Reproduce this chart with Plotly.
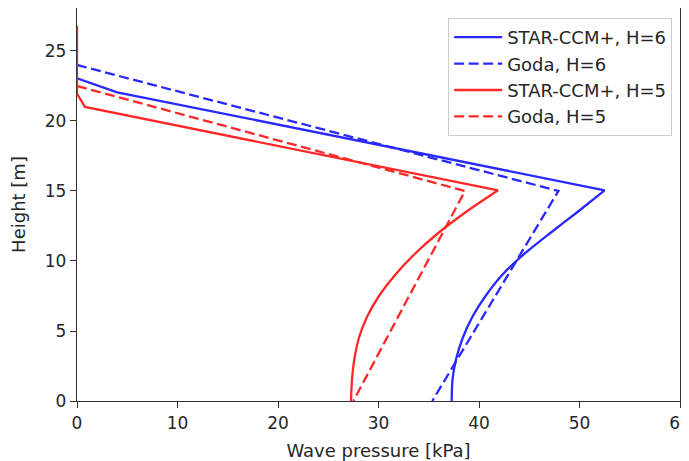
import plotly.graph_objects as go

# STAR-CCM+, H=6  (upper straight part, then curved lower part)
star6_top_p = [0.0, 2.0, 4.0, 52.5]
star6_top_z = [23.05, 22.55, 22.05, 15.05]
star6_low_p = [52.5, 49.8, 47.1, 44.5, 42.3, 40.65, 39.33, 38.38, 37.72, 37.36, 37.28]
star6_low_z = [15.05, 13.5, 12.0, 10.5, 9.0, 7.5, 6.0, 4.5, 3.0, 1.5, 0.0]
# Goda, H=6
goda6_p = [0.0, 47.9, 35.35]
goda6_z = [24.0, 15.0, 0.0]
# STAR-CCM+, H=5
star5_top_p = [0.0, 0.0, 0.8, 41.9]
star5_top_z = [26.8, 21.95, 21.0, 15.05]
star5_low_p = [41.9, 38.7, 35.95, 33.6, 31.65, 30.05, 28.85, 28.05, 27.6, 27.36, 27.26]
star5_low_z = [15.05, 13.5, 12.0, 10.5, 9.0, 7.5, 6.0, 4.5, 3.0, 1.5, 0.0]
# Goda, H=5
goda5_p = [0.0, 38.6, 27.5]
goda5_z = [22.5, 15.0, 0.0]

x_ticks = [0, 10, 20, 30, 40, 50, 60]
y_ticks = [0, 5, 10, 15, 20, 25]

BLUE = "rgb(40,40,255)"
RED = "rgb(255,40,40)"
FONT = "DejaVu Sans"
TXT = "#262626"
DASH = "10px,4.5px"
LW = 2.3

fig = go.Figure()
fig.add_trace(go.Scatter(x=star6_top_p, y=star6_top_z, mode="lines", name="STAR-CCM+, H=6",
                         legendgroup="g0", line=dict(color=BLUE, width=LW)))
fig.add_trace(go.Scatter(x=star6_low_p, y=star6_low_z, mode="lines", name="STAR-CCM+, H=6",
                         legendgroup="g0", showlegend=False,
                         line=dict(color=BLUE, width=LW, shape="spline", smoothing=0.7)))
fig.add_trace(go.Scatter(x=goda6_p, y=goda6_z, mode="lines", name="Goda, H=6",
                         legendgroup="g1", line=dict(color=BLUE, width=LW, dash=DASH)))
fig.add_trace(go.Scatter(x=star5_top_p, y=star5_top_z, mode="lines", name="STAR-CCM+, H=5",
                         legendgroup="g2", line=dict(color=RED, width=LW)))
fig.add_trace(go.Scatter(x=star5_low_p, y=star5_low_z, mode="lines", name="STAR-CCM+, H=5",
                         legendgroup="g2", showlegend=False,
                         line=dict(color=RED, width=LW, shape="spline", smoothing=0.7)))
fig.add_trace(go.Scatter(x=goda5_p, y=goda5_z, mode="lines", name="Goda, H=5",
                         legendgroup="g3", line=dict(color=RED, width=LW, dash=DASH)))

axis_common = dict(
    showgrid=False, zeroline=False, showline=True, linecolor="#333333", linewidth=1.3,
    mirror=True, ticks="outside", ticklen=6, tickwidth=1.3, tickcolor="#333333",
    tickfont=dict(family=FONT, size=17, color=TXT), automargin=False,
    ticklabeloverflow="allow",
)
fig.update_xaxes(range=[0, 60], tickvals=x_ticks, ticktext=[str(v) for v in x_ticks],
                 title=dict(text="Wave pressure [kPa]", font=dict(family=FONT, size=18, color=TXT)),
                 **axis_common)
fig.update_yaxes(range=[0, 28.07], tickvals=y_ticks, ticktext=[str(v) for v in y_ticks],
                 title=dict(text="Height [m]", font=dict(family=FONT, size=18, color=TXT)),
                 **axis_common)

fig.update_layout(
    width=681, height=453,
    margin=dict(l=69, r=9, t=0, b=60),
    paper_bgcolor="white", plot_bgcolor="white",
    showlegend=True,
    legend=dict(
        x=0.987, y=0.9746, xanchor="right", yanchor="top",
        bgcolor="rgba(255,255,255,0.9)", bordercolor="#cccccc", borderwidth=1,
        font=dict(family=FONT, size=18, color=TXT),
        tracegroupgap=0, itemwidth=48,
    ),
)

fig.write_html("out.html")
